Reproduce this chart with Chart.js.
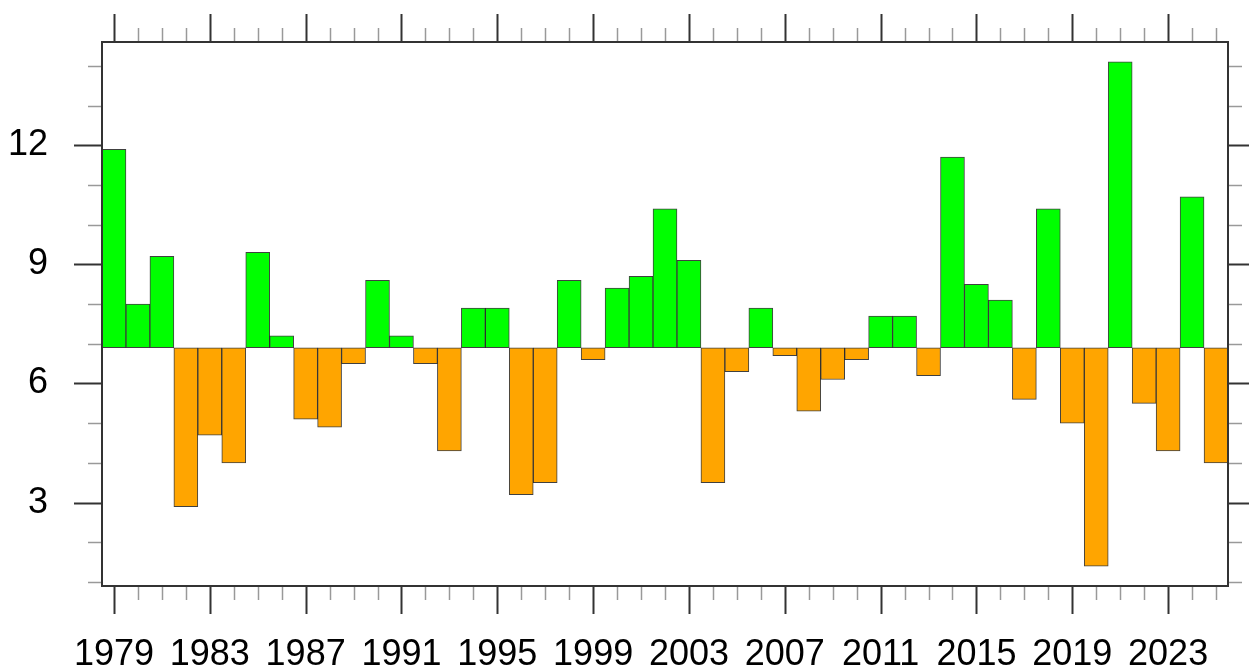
<!DOCTYPE html>
<html>
<head>
<meta charset="utf-8">
<script src="https://cdn.jsdelivr.net/npm/chart.js@4.4.1/dist/chart.umd.min.js"></script>
<style>
  html, body { margin: 0; padding: 0; background: #fff; }
  #wrap { width: 1249px; height: 670px; }
</style>
</head>
<body>
<div id="wrap"><canvas id="barChart" width="1249" height="670"></canvas></div>
<script>
const years = [];
for (let yr = 1979; yr <= 2025; yr += 1) years.push(yr);

const values = [
  11.9, 8.0, 9.2, 2.9, 4.7, 4.0, 9.3, 7.2, 5.1, 4.9,
  6.5, 8.6, 7.2, 6.5, 4.3, 7.9, 7.9, 3.2, 3.5, 8.6,
  6.6, 8.4, 8.7, 10.4, 9.1, 3.5, 6.3, 7.9, 6.7, 5.3,
  6.1, 6.6, 7.7, 7.7, 6.2, 11.7, 8.5, 8.1, 5.6, 10.4,
  5.0, 1.4, 14.1, 5.5, 4.3, 10.7, 4.0,
];

const baseLine = 6.9;
const yLabels = [3, 6, 9, 12];
const yMinor = [1, 2, 4, 5, 7, 8, 10, 11, 13, 14];
const yRange = [0.9, 14.6];

const ctx = document.getElementById('barChart');

// box around the plot + outward tick marks (major / minor)
const frameTicks = {
  id: 'frameTicks',
  afterDraw(chart) {
    const { ctx, chartArea: a, scales: { x, y } } = chart;
    const seg = (x1, y1, x2, y2) => {
      ctx.beginPath();
      ctx.moveTo(x1, y1);
      ctx.lineTo(x2, y2);
      ctx.stroke();
    };
    ctx.save();
    years.forEach((yr, i) => {
      const px = Math.round(x.getPixelForValue(i)) + 0.5;
      const major = (yr - 1979) % 4 === 0;
      const len = major ? 28 : 14;
      ctx.lineWidth = major ? 2 : 1.5;
      ctx.strokeStyle = major ? '#333' : '#999';
      seg(px, a.top, px, a.top - len);
      seg(px, a.bottom, px, a.bottom + len);
    });
    const drawY = (v, major) => {
      const py = Math.round(y.getPixelForValue(v)) + 0.5;
      const len = major ? 28 : 14;
      ctx.lineWidth = major ? 2 : 1.5;
      ctx.strokeStyle = major ? '#333' : '#999';
      seg(a.left, py, a.left - len, py);
      seg(a.right, py, a.right + len, py);
    };
    yLabels.forEach(v => drawY(v, true));
    yMinor.forEach(v => drawY(v, false));
    ctx.lineWidth = 2;
    ctx.strokeStyle = '#333';
    ctx.strokeRect(a.left, a.top, a.right - a.left, a.bottom - a.top);
    ctx.restore();
  },
};

const noPad = scale => {
  scale.paddingTop = 0;
  scale.paddingBottom = 0;
  scale.paddingLeft = 0;
  scale.paddingRight = 0;
};

const chart = new Chart(ctx, {
  type: 'bar',
  data: {
    labels: years.map(String),
    datasets: [
      {
        data: values.map(v => [baseLine, v]),
        backgroundColor: values.map(v => (v >= baseLine ? '#00ff00' : '#ffa500')),
        borderColor: 'rgba(0,0,0,0.75)',
        borderWidth: 1,
        borderSkipped: false,
        barPercentage: 1,
        categoryPercentage: 1,
      },
    ],
  },
  options: {
    responsive: false,
    animation: false,
    devicePixelRatio: 1,
    layout: { padding: { left: 0, right: 21, top: 42, bottom: 0 } },
    plugins: { legend: { display: false }, tooltip: { enabled: false } },
    scales: {
      x: {
        offset: true,
        grid: { display: true, drawOnChartArea: false, drawTicks: false, color: 'transparent' },
        border: { display: false },
        ticks: {
          autoSkip: false,
          maxRotation: 0,
          padding: 47,
          color: '#000',
          font: { family: '"Liberation Sans", Arial, Helvetica, sans-serif', size: 36 },
          callback: (val, i) => (i % 4 === 0 ? years[i] : ''),
        },
        afterFit: scale => { scale.height = 84; noPad(scale); },
      },
      y: {
        min: yRange[0],
        max: yRange[1],
        grid: { display: true, drawOnChartArea: false, drawTicks: false, color: 'transparent' },
        border: { display: false },
        ticks: {
          padding: 54,
          color: '#000',
          font: { family: '"Liberation Sans", Arial, Helvetica, sans-serif', size: 36 },
        },
        afterBuildTicks: scale => { scale.ticks = yLabels.map(v => ({ value: v })); },
        afterFit: scale => { scale.width = 102; noPad(scale); },
      },
    },
  },
  plugins: [frameTicks],
});
</script>
</body>
</html>
